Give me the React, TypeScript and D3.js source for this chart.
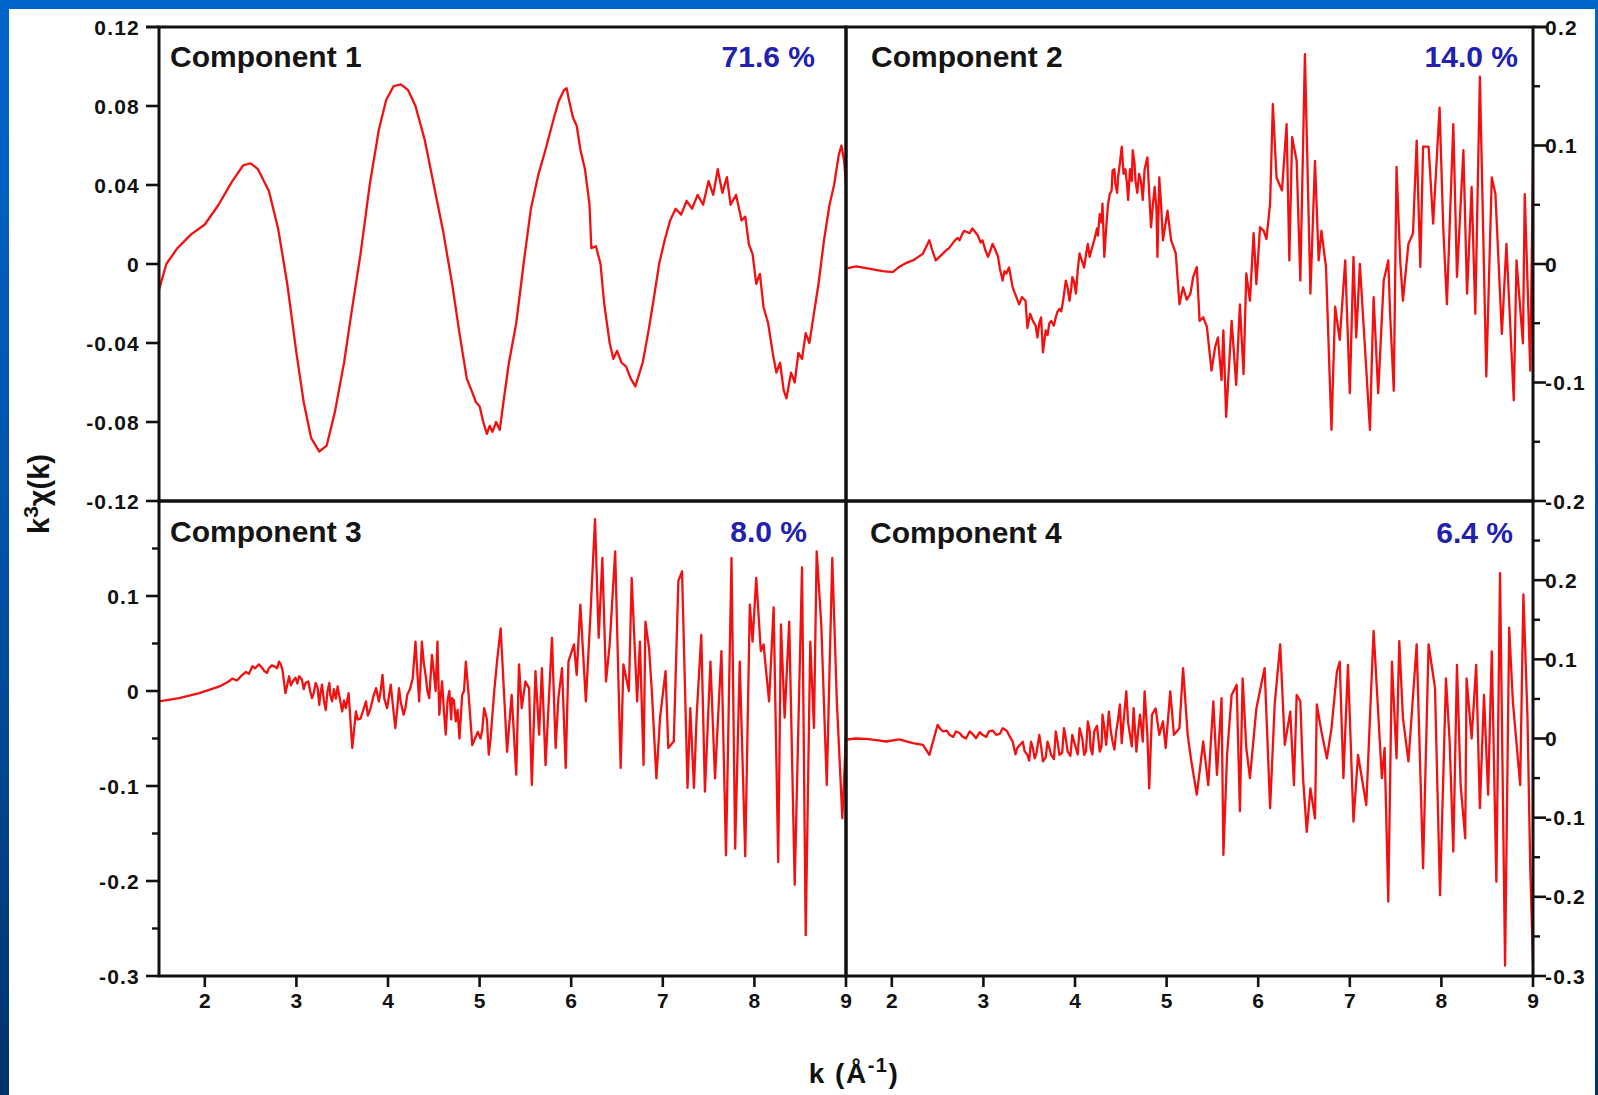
import React from "react";
import * as d3 from "d3";

// ---------- data ----------
const kTicks = [2, 3, 4, 5, 6, 7, 8, 9];

const comp1Ticks = [0.12, 0.08, 0.04, 0, -0.04, -0.08, -0.12];
const comp2Ticks = [0.2, 0.1, 0, -0.1, -0.2];
const comp3Ticks = [0.1, 0, -0.1, -0.2, -0.3];
const comp4Ticks = [0.2, 0.1, 0, -0.1, -0.2, -0.3];
const comp1Minor: number[] = [];
const comp2Minor = [0.15, 0.05, -0.05, -0.15];
const comp3Minor = [0.15, 0.05, -0.05, -0.15, -0.25];
const comp4Minor = [0.25, 0.15, 0.05, -0.05, -0.15, -0.25];

const componentNames = ["Component 1", "Component 2", "Component 3", "Component 4"];
const percentages = ["71.6 %", "14.0 %", "8.0 %", "6.4 %"];

const comp1: [number, number][] = [
  [1.5, -0.013], [1.58, 0.0], [1.7, 0.008], [1.85, 0.015], [2.0, 0.02], [2.15, 0.03], [2.3, 0.042],
  [2.42, 0.05], [2.5, 0.051], [2.58, 0.048], [2.7, 0.037], [2.8, 0.018], [2.9, -0.01], [3.0, -0.045],
  [3.08, -0.07], [3.16, -0.088], [3.25, -0.095], [3.33, -0.092], [3.42, -0.075], [3.52, -0.05],
  [3.6, -0.025], [3.7, 0.005], [3.8, 0.04], [3.9, 0.068], [3.98, 0.083], [4.06, 0.09], [4.14, 0.091],
  [4.22, 0.088], [4.3, 0.08], [4.4, 0.063], [4.5, 0.04], [4.6, 0.017], [4.7, -0.01], [4.78, -0.035],
  [4.86, -0.058], [4.92, -0.065], [4.96, -0.07], [5.0, -0.072], [5.04, -0.08], [5.08, -0.086],
  [5.11, -0.082], [5.14, -0.085], [5.18, -0.08], [5.22, -0.084], [5.26, -0.07], [5.32, -0.05],
  [5.4, -0.03], [5.48, 0.0], [5.56, 0.028], [5.64, 0.045], [5.72, 0.058], [5.8, 0.072], [5.86, 0.082],
  [5.92, 0.088], [5.95, 0.089], [5.98, 0.082], [6.02, 0.074], [6.06, 0.07], [6.1, 0.058], [6.15, 0.048],
  [6.2, 0.03], [6.22, 0.008], [6.27, 0.009], [6.32, 0.0], [6.36, -0.02], [6.42, -0.04], [6.46, -0.048],
  [6.5, -0.044], [6.55, -0.05], [6.6, -0.052], [6.65, -0.058], [6.7, -0.062], [6.74, -0.056],
  [6.78, -0.05], [6.84, -0.035], [6.9, -0.018], [6.96, 0.0], [7.02, 0.012], [7.08, 0.022], [7.14, 0.028],
  [7.2, 0.025], [7.26, 0.032], [7.32, 0.028], [7.38, 0.035], [7.44, 0.03], [7.5, 0.042], [7.55, 0.035],
  [7.6, 0.048], [7.65, 0.036], [7.7, 0.044], [7.74, 0.03], [7.8, 0.035], [7.86, 0.022], [7.9, 0.024],
  [7.94, 0.01], [7.98, 0.005], [8.02, -0.01], [8.06, -0.005], [8.1, -0.022], [8.15, -0.03],
  [8.2, -0.045], [8.24, -0.055], [8.28, -0.05], [8.32, -0.064], [8.35, -0.068], [8.4, -0.055],
  [8.44, -0.06], [8.48, -0.045], [8.52, -0.048], [8.56, -0.035], [8.6, -0.04], [8.65, -0.025],
  [8.7, -0.01], [8.76, 0.012], [8.82, 0.03], [8.87, 0.04], [8.92, 0.055], [8.95, 0.06], [8.98, 0.052],
  [9.0, 0.04],
];

const comp2: [number, number][] = [
  [1.5, -0.004], [1.61, -0.002], [1.75, -0.004], [1.9, -0.006], [2.01, -0.0068], [2.08, -0.0025],
  [2.16, 0.001], [2.23, 0.003], [2.29, 0.006], [2.34, 0.0088], [2.41, 0.02], [2.44, 0.012], [2.48, 0.003],
  [2.56, 0.009], [2.6, 0.012], [2.62, 0.013], [2.66, 0.017], [2.69, 0.02], [2.72, 0.022], [2.74, 0.02],
  [2.77, 0.0254], [2.79, 0.028], [2.82, 0.027], [2.85, 0.026], [2.88, 0.03], [2.91, 0.027],
  [2.94, 0.024], [2.97, 0.018], [2.99, 0.02], [3.02, 0.012], [3.05, 0.006], [3.07, 0.01], [3.1, 0.017],
  [3.13, 0.012], [3.16, 0.006], [3.18, -0.004], [3.21, -0.014], [3.23, -0.006], [3.25, -0.008],
  [3.28, -0.003], [3.32, -0.0197], [3.34, -0.024], [3.36, -0.028], [3.39, -0.034], [3.42, -0.028],
  [3.46, -0.031], [3.48, -0.054], [3.51, -0.042], [3.54, -0.048], [3.57, -0.052], [3.59, -0.062],
  [3.61, -0.05], [3.63, -0.045], [3.65, -0.0745], [3.68, -0.056], [3.7, -0.06], [3.72, -0.05],
  [3.74, -0.048], [3.77, -0.052], [3.79, -0.045], [3.81, -0.04], [3.83, -0.038], [3.85, -0.04],
  [3.87, -0.031], [3.9, -0.014], [3.92, -0.02], [3.94, -0.031], [3.96, -0.02], [3.97, -0.011],
  [3.99, -0.015], [4.01, -0.025], [4.03, -0.005], [4.05, 0.009], [4.07, 0.004], [4.1, -0.003],
  [4.12, 0.008], [4.14, 0.017], [4.16, 0.006], [4.18, 0.012], [4.21, 0.02], [4.24, 0.03], [4.25, 0.024],
  [4.27, 0.042], [4.29, 0.035], [4.3, 0.051], [4.32, 0.006], [4.34, 0.03], [4.35, 0.04], [4.36, 0.05],
  [4.38, 0.059], [4.4, 0.062], [4.41, 0.079], [4.43, 0.08], [4.44, 0.068], [4.46, 0.06], [4.47, 0.073],
  [4.49, 0.085], [4.51, 0.099], [4.52, 0.088], [4.53, 0.076], [4.55, 0.08], [4.57, 0.066], [4.58, 0.054],
  [4.6, 0.08], [4.62, 0.07], [4.63, 0.096], [4.65, 0.085], [4.66, 0.07], [4.68, 0.06], [4.7, 0.076],
  [4.72, 0.07], [4.74, 0.054], [4.76, 0.08], [4.79, 0.09], [4.81, 0.06], [4.83, 0.031], [4.85, 0.05],
  [4.87, 0.065], [4.89, 0.045], [4.9, 0.006], [4.92, 0.073], [4.94, 0.05], [4.96, 0.02], [4.98, 0.03],
  [5.01, 0.045], [5.03, 0.032], [5.05, 0.02], [5.1, 0.009], [5.14, -0.034], [5.18, -0.0197],
  [5.22, -0.03], [5.26, -0.025], [5.29, -0.011], [5.33, -0.0025], [5.36, -0.048], [5.4, -0.045],
  [5.44, -0.053], [5.49, -0.09], [5.53, -0.07], [5.56, -0.062], [5.6, -0.098], [5.62, -0.056],
  [5.65, -0.129], [5.71, -0.048], [5.76, -0.102], [5.8, -0.034], [5.84, -0.093], [5.87, -0.008],
  [5.91, -0.031], [5.95, 0.026], [5.98, -0.017], [6.02, 0.031], [6.06, 0.028], [6.09, 0.021],
  [6.13, 0.051], [6.16, 0.135], [6.2, 0.073], [6.26, 0.062], [6.31, 0.118], [6.34, 0.003], [6.37, 0.107],
  [6.42, 0.087], [6.46, -0.014], [6.51, 0.177], [6.57, -0.025], [6.62, 0.087], [6.66, 0.003],
  [6.69, 0.028], [6.74, -0.0025], [6.8, -0.14], [6.84, -0.036], [6.89, -0.064], [6.95, 0.003],
  [7.0, -0.109], [7.04, 0.006], [7.07, -0.062], [7.11, 0.0], [7.22, -0.14], [7.26, -0.028], [7.31, -0.109],
  [7.37, -0.014], [7.42, 0.003], [7.44, -0.042], [7.48, -0.107], [7.51, 0.082], [7.55, 0.003],
  [7.58, -0.031], [7.64, 0.017], [7.69, 0.026], [7.73, 0.104], [7.77, -0.0025], [7.8, 0.099],
  [7.86, 0.099], [7.91, 0.034], [7.98, 0.132], [8.02, 0.031], [8.06, -0.034], [8.13, 0.118],
  [8.17, -0.011], [8.24, 0.096], [8.28, -0.025], [8.33, 0.065], [8.37, -0.042], [8.42, 0.158],
  [8.49, -0.095], [8.55, 0.073], [8.59, 0.059], [8.66, -0.059], [8.71, 0.017], [8.79, -0.115],
  [8.82, 0.003], [8.89, -0.067], [8.91, 0.059], [8.97, -0.09], [9.0, 0.087],
];

const comp3: [number, number][] = [
  [1.5, -0.011], [1.72, -0.0075], [1.94, -0.0023], [2.16, 0.0048], [2.26, 0.01], [2.3, 0.013],
  [2.35, 0.011], [2.41, 0.017], [2.45, 0.02], [2.48, 0.018], [2.52, 0.026], [2.55, 0.024], [2.59, 0.028],
  [2.62, 0.025], [2.65, 0.021], [2.68, 0.019], [2.7, 0.024], [2.73, 0.027], [2.76, 0.026], [2.79, 0.024],
  [2.81, 0.031], [2.83, 0.028], [2.85, 0.021], [2.88, -0.0023], [2.92, 0.0155], [2.94, 0.006],
  [2.96, 0.01], [2.99, 0.014], [3.01, 0.008], [3.03, 0.0155], [3.06, 0.012], [3.08, 0.002], [3.1, 0.0085],
  [3.13, 0.01], [3.15, 0.0], [3.17, -0.0075], [3.19, -0.002], [3.21, 0.0085], [3.23, 0.004],
  [3.25, -0.0145], [3.26, -0.004], [3.28, 0.0068], [3.3, -0.01], [3.32, -0.02], [3.34, 0.0],
  [3.36, 0.0085], [3.37, -0.004], [3.39, -0.011], [3.41, 0.002], [3.43, -0.008], [3.45, 0.0048],
  [3.47, -0.006], [3.5, -0.0215], [3.52, -0.01], [3.54, -0.018], [3.57, -0.0023], [3.61, -0.06],
  [3.65, -0.0215], [3.67, -0.03], [3.7, -0.029], [3.73, -0.02], [3.76, -0.011], [3.78, -0.026],
  [3.81, -0.018], [3.84, -0.006], [3.87, 0.003], [3.9, -0.011], [3.92, 0.0], [3.94, 0.017],
  [3.96, -0.008], [3.99, -0.018], [4.01, -0.006], [4.03, 0.0068], [4.05, -0.012], [4.08, -0.039],
  [4.1, -0.02], [4.12, 0.003], [4.14, -0.012], [4.17, -0.025], [4.19, -0.018], [4.21, -0.004],
  [4.24, 0.002], [4.27, 0.0135], [4.3, 0.052], [4.32, 0.02], [4.34, -0.011], [4.37, 0.052], [4.39, 0.03],
  [4.41, 0.017], [4.43, 0.0], [4.45, -0.0075], [4.48, 0.038], [4.5, 0.02], [4.52, 0.0], [4.54, 0.052],
  [4.56, -0.025], [4.59, 0.01], [4.61, -0.02], [4.63, -0.046], [4.65, -0.01], [4.67, 0.0],
  [4.69, -0.03], [4.7, -0.0075], [4.72, -0.01], [4.74, -0.032], [4.76, -0.02], [4.78, -0.05],
  [4.81, -0.004], [4.83, 0.0], [4.85, 0.031], [4.88, -0.004], [4.9, -0.03], [4.92, -0.057], [4.95, -0.05],
  [4.98, -0.043], [5.01, -0.05], [5.03, -0.04], [5.05, -0.018], [5.08, -0.03], [5.1, -0.067],
  [5.12, -0.05], [5.14, -0.025], [5.16, 0.0], [5.19, 0.031], [5.23, 0.066], [5.3, -0.064], [5.35, -0.004],
  [5.4, -0.088], [5.43, 0.028], [5.46, -0.018], [5.5, 0.01], [5.54, 0.003], [5.57, -0.099], [5.61, 0.021],
  [5.65, -0.046], [5.68, 0.024], [5.72, -0.078], [5.79, 0.056], [5.83, -0.06], [5.86, -0.0075],
  [5.9, 0.024], [5.94, -0.081], [5.97, 0.031], [6.03, 0.049], [6.06, 0.017], [6.1, 0.091], [6.16, -0.011],
  [6.21, 0.08], [6.26, 0.181], [6.3, 0.056], [6.34, 0.14], [6.38, 0.01], [6.42, 0.049], [6.48, 0.147],
  [6.54, -0.081], [6.57, 0.028], [6.63, 0.0], [6.66, 0.119], [6.72, -0.011], [6.75, 0.052],
  [6.79, -0.078], [6.81, 0.073], [6.85, 0.045], [6.88, 0.0], [6.93, -0.092], [6.97, -0.028], [7.03, 0.021],
  [7.06, -0.06], [7.12, -0.053], [7.17, 0.116], [7.21, 0.126], [7.27, -0.102], [7.3, -0.018],
  [7.34, -0.102], [7.37, -0.025], [7.42, 0.059], [7.46, -0.106], [7.52, 0.031], [7.57, -0.092],
  [7.64, 0.042], [7.69, -0.173], [7.75, 0.14], [7.79, -0.166], [7.84, 0.031], [7.9, -0.174], [7.95, 0.091],
  [7.98, 0.052], [8.02, 0.119], [8.07, 0.042], [8.1, 0.049], [8.16, -0.011], [8.21, 0.088], [8.26, -0.18],
  [8.29, 0.07], [8.33, -0.028], [8.38, 0.073], [8.44, -0.204], [8.52, 0.13], [8.56, -0.257], [8.61, 0.052],
  [8.65, -0.039], [8.68, 0.147], [8.73, 0.07], [8.79, -0.099], [8.85, 0.14], [8.9, -0.011],
  [8.96, -0.134], [9.0, -0.046],
];

const comp4: [number, number][] = [
  [1.5, -0.0016], [1.6, 0.0], [1.72, -0.0004], [1.83, -0.002], [1.94, -0.0038], [2.08, -0.001],
  [2.23, -0.0059], [2.34, -0.008], [2.41, -0.0207], [2.45, -0.004], [2.5, 0.0173], [2.53, 0.012],
  [2.56, 0.0089], [2.6, 0.01], [2.63, 0.0046], [2.67, 0.002], [2.7, 0.0089], [2.74, 0.007], [2.77, 0.0025],
  [2.81, 0.0], [2.85, 0.0089], [2.88, 0.006], [2.92, 0.0004], [2.96, 0.008], [2.99, 0.0046],
  [3.03, 0.002], [3.06, 0.0089], [3.1, 0.01], [3.14, 0.0046], [3.18, 0.006], [3.21, 0.013], [3.24, 0.011],
  [3.26, 0.0089], [3.29, 0.002], [3.32, -0.004], [3.35, -0.02], [3.37, -0.012], [3.4, -0.008],
  [3.43, -0.004], [3.45, -0.016], [3.48, -0.0207], [3.5, -0.028], [3.52, -0.004], [3.54, -0.012],
  [3.56, -0.025], [3.58, -0.018], [3.61, 0.0046], [3.63, -0.01], [3.65, -0.029], [3.68, -0.024],
  [3.7, -0.004], [3.72, -0.012], [3.74, -0.0207], [3.77, -0.026], [3.79, 0.0089], [3.81, -0.004],
  [3.83, -0.0207], [3.86, -0.018], [3.88, 0.013], [3.9, 0.0], [3.92, -0.0165], [3.95, -0.022],
  [3.97, 0.0046], [3.99, -0.004], [4.01, -0.012], [4.03, -0.02], [4.05, 0.013], [4.08, 0.0],
  [4.1, -0.0207], [4.12, -0.016], [4.14, 0.0215], [4.16, 0.01], [4.17, -0.012], [4.19, -0.02],
  [4.21, 0.0089], [4.24, 0.016], [4.27, -0.0165], [4.29, -0.01], [4.3, 0.03], [4.32, 0.014],
  [4.34, -0.008], [4.37, 0.034], [4.39, 0.01], [4.41, -0.004], [4.43, -0.014], [4.45, 0.0089],
  [4.47, 0.024], [4.49, 0.043], [4.51, -0.006], [4.53, 0.0215], [4.56, 0.0595], [4.58, 0.02],
  [4.6, 0.0046], [4.62, -0.01], [4.64, 0.0384], [4.67, -0.0165], [4.69, 0.01], [4.71, 0.03],
  [4.74, -0.004], [4.76, 0.0595], [4.79, 0.0046], [4.81, -0.063], [4.84, 0.03], [4.88, 0.038],
  [4.92, 0.0046], [4.96, 0.0215], [4.99, -0.012], [5.04, 0.0595], [5.08, 0.0046], [5.14, 0.013],
  [5.18, 0.089], [5.23, 0.0046], [5.27, -0.029], [5.33, -0.071], [5.4, -0.0038], [5.455, -0.059],
  [5.51, 0.047], [5.55, -0.046], [5.6, 0.051], [5.62, -0.147], [5.66, -0.0207], [5.71, 0.055],
  [5.765, 0.068], [5.8, -0.092], [5.83, 0.076], [5.87, -0.012], [5.91, -0.05], [5.98, 0.038],
  [6.07, 0.089], [6.13, -0.088], [6.18, 0.043], [6.24, 0.119], [6.29, -0.008], [6.35, 0.034],
  [6.39, -0.059], [6.42, 0.055], [6.46, 0.047], [6.49, -0.05], [6.53, -0.118], [6.57, -0.063],
  [6.62, -0.101], [6.64, 0.043], [6.69, 0.0089], [6.75, -0.025], [6.8, 0.013], [6.86, 0.085],
  [6.89, 0.097], [6.93, -0.05], [6.98, 0.093], [7.04, -0.105], [7.09, -0.0207], [7.18, -0.084],
  [7.26, 0.136], [7.35, -0.05], [7.38, -0.012], [7.42, -0.206], [7.46, 0.097], [7.51, -0.025],
  [7.54, 0.123], [7.58, 0.026], [7.64, -0.029], [7.73, 0.119], [7.8, -0.164], [7.86, 0.119],
  [7.93, 0.064], [7.985, -0.198], [8.05, 0.076], [8.09, -0.0038], [8.13, -0.143], [8.17, 0.093],
  [8.21, -0.059], [8.26, -0.126], [8.275, 0.076], [8.33, 0.0], [8.38, 0.093], [8.42, -0.088],
  [8.465, 0.055], [8.51, -0.071], [8.55, 0.11], [8.6, -0.181], [8.64, 0.209], [8.695, -0.287],
  [8.74, 0.14], [8.78, 0.047], [8.86, -0.059], [8.895, 0.182], [8.94, 0.026], [8.97, -0.164],
  [9.0, -0.283],
];

// ---------- layout ----------
const W = 1598;
const H = 1095;
const X0 = 159, XM = 846, X1 = 1533;
const Y0 = 27, YM = 501, Y1 = 976;
const FONT = "'Liberation Sans', Arial, Helvetica, sans-serif";

type Panel = {
  data: [number, number][];
  x: [number, number];
  y: [number, number];
  dom: [number, number];
  ticks: number[];
  minor: number[];
  side: "left" | "right";
  name: string;
  pct: string;
  nameX: number;
  pctX: number;
  baseY: number;
  skipTop: boolean;
  showX: boolean;
};

const panels: Panel[] = [
  { data: comp1, x: [X0, XM], y: [Y0, YM], dom: [-0.12, 0.12], ticks: comp1Ticks, minor: comp1Minor, side: "left", name: componentNames[0], pct: percentages[0], nameX: 170, pctX: 815, baseY: 67, skipTop: false, showX: false },
  { data: comp2, x: [XM, X1], y: [Y0, YM], dom: [-0.2, 0.2], ticks: comp2Ticks, minor: comp2Minor, side: "right", name: componentNames[1], pct: percentages[1], nameX: 871, pctX: 1518, baseY: 67, skipTop: false, showX: false },
  { data: comp3, x: [X0, XM], y: [YM, Y1], dom: [-0.3, 0.2], ticks: comp3Ticks, minor: comp3Minor, side: "left", name: componentNames[2], pct: percentages[2], nameX: 170, pctX: 807, baseY: 542, skipTop: true, showX: true },
  { data: comp4, x: [XM, X1], y: [YM, Y1], dom: [-0.3, 0.3], ticks: comp4Ticks, minor: comp4Minor, side: "right", name: componentNames[3], pct: percentages[3], nameX: 870, pctX: 1513, baseY: 543, skipTop: true, showX: true },
];

const fmt = (v: number) => {
  if (Math.abs(v) < 1e-9) return "0";
  const s = Math.abs(v).toFixed(Math.abs(v * 10 - Math.round(v * 10)) < 1e-9 ? 1 : 2);
  return (v < 0 ? "-" : "") + s;
};

function PanelView({ p, i }: { p: Panel; i: number }) {
  const xs = d3.scaleLinear().domain([1.5, 9]).range(p.x);
  const ys = d3.scaleLinear().domain(p.dom).range([p.y[1], p.y[0]]);
  const line = d3
    .line<[number, number]>()
    .x((d) => xs(d[0]))
    .y((d) => ys(d[1]));
  const sorted = [...p.data].sort((a, b) => a[0] - b[0]);
  const clipId = `clip${i}`;
  const axisX = p.side === "left" ? p.x[0] : p.x[1];
  const dir = p.side === "left" ? -1 : 1;
  return (
    <g>
      <defs>
        <clipPath id={clipId}>
          <rect x={p.x[0]} y={p.y[0]} width={p.x[1] - p.x[0]} height={p.y[1] - p.y[0]} />
        </clipPath>
      </defs>
      <path
        d={line(sorted) || ""}
        fill="none"
        stroke="#f21010"
        strokeWidth={2.3}
        strokeLinejoin="round"
        clipPath={`url(#${clipId})`}
      />
      {p.ticks.map((t) => (
        <g key={"t" + t}>
          <line x1={axisX} x2={axisX + dir * 13} y1={ys(t)} y2={ys(t)} stroke="#111" strokeWidth={2.6} />
          <text
            x={axisX + dir * (p.side === "left" ? 19 : 12)}
            y={ys(t)}
            dy="0.36em"
            textAnchor={p.side === "left" ? "end" : "start"}
            fontFamily={FONT}
            fontWeight="bold"
            fontSize={21}
            letterSpacing={1.2}
            fill="#111"
          >
            {fmt(t)}
          </text>
        </g>
      ))}
      {!p.skipTop && (
        <line x1={axisX} x2={axisX + dir * 13} y1={ys(p.dom[1])} y2={ys(p.dom[1])} stroke="#111" strokeWidth={2.6} />
      )}
      {p.minor.map((t) => (
        <line key={"m" + t} x1={axisX} x2={axisX + dir * 7} y1={ys(t)} y2={ys(t)} stroke="#111" strokeWidth={2.4} />
      ))}
      {p.showX &&
        kTicks.map((k) => (
          <g key={"k" + k}>
            <line x1={xs(k)} x2={xs(k)} y1={p.y[1]} y2={p.y[1] + 11} stroke="#111" strokeWidth={2.6} />
            <text
              x={xs(k)}
              y={p.y[1] + 32}
              textAnchor="middle"
              fontFamily={FONT}
              fontWeight="bold"
              fontSize={21}
              fill="#111"
            >
              {k}
            </text>
          </g>
        ))}
      <rect
        x={p.x[0]}
        y={p.y[0]}
        width={p.x[1] - p.x[0]}
        height={p.y[1] - p.y[0]}
        fill="none"
        stroke="#111"
        strokeWidth={3}
      />
      <text x={p.nameX} y={p.baseY} fontFamily={FONT} fontWeight="bold" fontSize={30} fill="#151515">
        {p.name}
      </text>
      <text x={p.pctX} y={p.baseY} textAnchor="end" fontFamily={FONT} fontWeight="bold" fontSize={30} fill="#2121b0">
        {p.pct}
      </text>
    </g>
  );
}

export default function App() {
  return (
    <div style={{ position: "absolute", left: 0, top: 0 }}>
      <svg width={W} height={H} viewBox={`0 0 ${W} ${H}`} style={{ display: "block" }}>
        <defs>
          <linearGradient id="bg" x1="0" y1="0" x2="0" y2="1">
            <stop offset="0" stopColor="#0066cc" />
            <stop offset="0.5" stopColor="#0052a8" />
            <stop offset="1" stopColor="#00336b" />
          </linearGradient>
        </defs>
        <rect x={0} y={0} width={W} height={H} fill="url(#bg)" />
        <rect x={9} y={9} width={1586} height={H - 9} fill="#ffffff" />
        {panels.map((p, i) => (
          <PanelView key={i} p={p} i={i} />
        ))}
        <text
          transform={`translate(49, 494) rotate(-90)`}
          textAnchor="middle"
          fontFamily={FONT}
          fontWeight="bold"
          fontSize={29}
          fill="#111"
        >
          k
          <tspan dy="-11" fontSize={21}>3</tspan>
          <tspan dy="11">χ(k)</tspan>
        </text>
        <text
          x={854}
          y={1083}
          textAnchor="middle"
          fontFamily={FONT}
          fontWeight="bold"
          fontSize={28}
          letterSpacing={1.5}
          fill="#111"
        >
          k (Å
          <tspan dy="-11" fontSize={20}>-1</tspan>
          <tspan dy="11">)</tspan>
        </text>
      </svg>
    </div>
  );
}
